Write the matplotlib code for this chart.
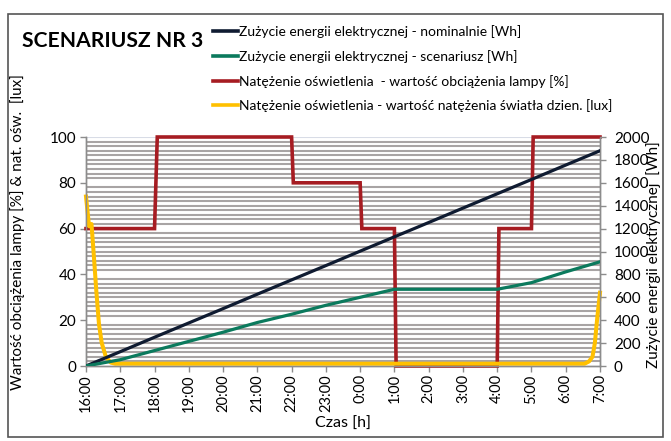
import matplotlib
matplotlib.use("Agg")
import matplotlib.pyplot as plt
from matplotlib.patches import Rectangle
from matplotlib.lines import Line2D
import numpy as np

plt.rcParams['font.family'] = ['Lato', 'DejaVu Sans']

# ---- data (hours counted from 16:00) ----
hour_ticks = list(range(16))
hour_labels = ["16:00", "17:00", "18:00", "19:00", "20:00", "21:00", "22:00", "23:00",
               "0:00", "1:00", "2:00", "3:00", "4:00", "5:00", "6:00", "7:00"]

energy_t = list(range(16))
energy_nominal = [0, 125, 251, 376, 501, 627, 752, 877, 1003, 1128, 1253, 1379, 1504, 1629, 1755, 1880]
energy_scenario = [0, 55, 135, 215, 295, 380, 452, 530, 600, 670, 670, 670, 670, 728, 822, 910]

load_t = [0, 2.0, 2.08, 6.0, 6.05, 8.0, 8.05, 9.0, 9.05, 12.0, 12.05, 13.0, 13.05, 15.0]
load_pct = [60, 60, 100, 100, 80, 80, 60, 60, 0, 0, 60, 60, 100, 100]

lux_t = [0, 0.09, 0.16, 0.22, 0.30, 0.38, 0.46, 0.58, 0.72, 0.85,
         14.55, 14.68, 14.78, 14.85, 14.92, 15.0]
lux_val = [74, 61, 62, 50, 33, 18, 10, 4, 1.5, 1,
           1, 2, 4, 10, 21, 32]

labels = ["Zużycie energii elektrycznej - nominalnie [Wh]",
          "Zużycie energii elektrycznej - scenariusz [Wh]",
          "Natężenie oświetlenia  - wartość obciążenia lampy [%]",
          "Natężenie oświetlenia - wartość natężenia światła dzien. [lux]"]

c_nom = "#0f1b31"
c_scen = "#0b7a5d"
c_load = "#a61c22"
c_lux = "#ffc000"

W, H = 671, 441
fig = plt.figure(figsize=(W / 100, H / 100), dpi=100)
fig.patch.set_facecolor("white")

L, R, T, B = 86, 600, 137, 366
ax = fig.add_axes([L / W, 1 - B / H, (R - L) / W, (B - T) / H])
ax2 = ax.twinx()

# grid
ax.set_ylim(0, 100)
ax.set_xlim(0, 15)
ax.set_yticks(np.arange(0, 101, 20))
ax.set_yticks(np.arange(0, 100, 2), minor=True)
ax.grid(which="minor", axis="y", color="#a8a4a4", lw=1.5, zorder=0)
ax.axhline(100, color="#d8dce6", lw=1.5, zorder=0)
ax.tick_params(axis="y", which="minor", length=0)

ax.plot(load_t, load_pct, color=c_load, lw=2.6, zorder=3, solid_joinstyle="miter", clip_on=False)
ax.plot(lux_t, lux_val, color=c_lux, lw=2.9, zorder=4, clip_on=False)

ax2.set_ylim(0, 2000)
ax2.set_yticks(np.arange(0, 2001, 200))
ax2.plot(energy_t, energy_nominal, color=c_nom, lw=2.3, zorder=3)
ax2.plot(energy_t, energy_scenario, color=c_scen, lw=2.3, zorder=3)

ax.set_xticks(hour_ticks)
ax.set_xticklabels(hour_labels, rotation=90)

for a in (ax, ax2):
    for s in a.spines.values():
        s.set_color("#8c8c8c")
        s.set_linewidth(1.0)
    a.spines["top"].set_visible(False)
ax.tick_params(axis="x", length=4, width=1, color="#8c8c8c", pad=2, labelsize=10.5)
ax.tick_params(axis="y", which="major", length=4, width=1, color="#8c8c8c", pad=3, labelsize=11)
ax2.tick_params(axis="y", length=4, width=1, color="#8c8c8c", pad=6, labelsize=11)

# labels
fig.text(18 / W, 1 - 232 / H, "Wartość obciążenia lampy [%] & nat. ośw.  [lux]",
         rotation=90, ha="center", va="center", fontsize=11)
fig.text(654 / W, 1 - 255 / H, "Zużycie energii elektrycznej  [Wh]",
         rotation=90, ha="center", va="center", fontsize=11)
fig.text(343 / W, 1 - 424 / H, "Czas [h]", ha="center", va="center", fontsize=11.5)
fig.text(22 / W, 1 - 41 / H, "SCENARIUSZ NR 3", ha="left", va="center",
         fontsize=15.2, fontweight="bold")

handles = [Line2D([], [], color=c, lw=2.6) for c in (c_nom, c_scen, c_load, c_lux)]
fig.legend(handles, labels, loc="upper left", bbox_to_anchor=(213 / W, 1 - 25 / H),
           frameon=False, fontsize=10, handlelength=1.8, handletextpad=0.1,
           labelspacing=0.85, borderaxespad=0, borderpad=0)

fig.patches.append(Rectangle((8 / W, 1 - 437 / H), 655 / W, 423 / H,
                             transform=fig.transFigure, fill=False,
                             ec="#555555", lw=1.2))

fig.savefig("out.png", dpi=100)
